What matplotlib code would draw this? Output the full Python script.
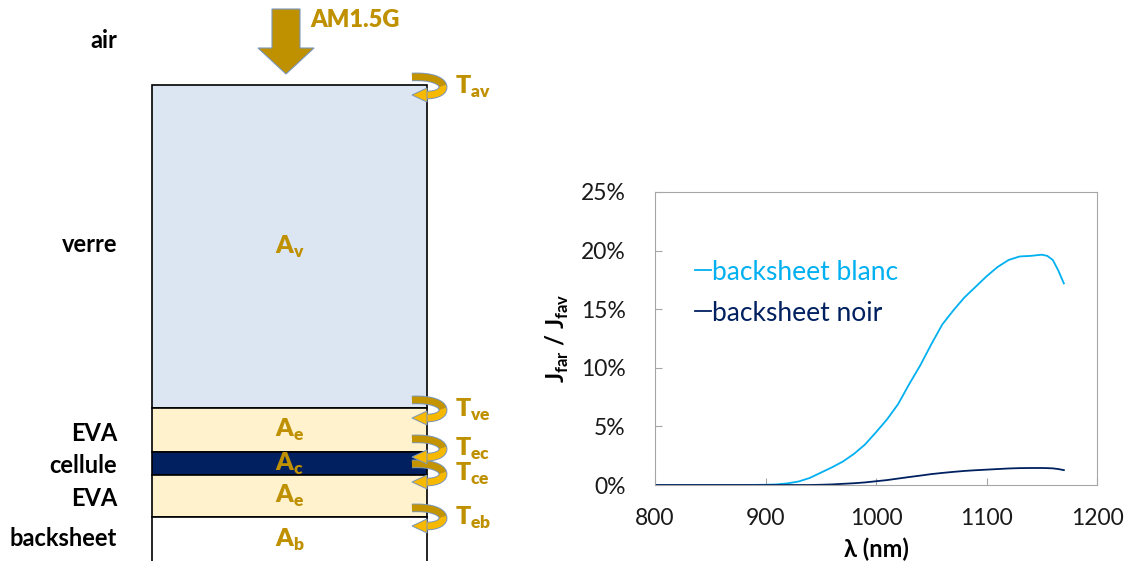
import matplotlib.pyplot as plt
from matplotlib.patches import Rectangle, Polygon, PathPatch
from matplotlib.path import Path
from matplotlib.ticker import FuncFormatter

plt.rcParams['font.family'] = ['Lato', 'DejaVu Sans']

# --- chart data ---
wavelength = [800, 850, 880, 900, 910, 920, 930, 940, 950, 960, 970, 980, 990,
              1000, 1010, 1020, 1030, 1040, 1050, 1060, 1070, 1080, 1090, 1100,
              1110, 1120, 1130, 1140, 1150, 1155, 1160, 1165, 1170]
white_backsheet = [0, 0, 0, 0.02, 0.05, 0.14, 0.3, 0.6, 1.05, 1.5, 2.0, 2.65, 3.45,
                   4.5, 5.6, 6.9, 8.6, 10.2, 12.0, 13.7, 14.9, 16.0, 16.9, 17.8,
                   18.6, 19.2, 19.5, 19.55, 19.65, 19.55, 19.2, 18.3, 17.2]
black_backsheet = [0, 0, 0, 0, 0, 0, 0, 0, 0.02, 0.05, 0.1, 0.15, 0.22,
                   0.32, 0.42, 0.55, 0.68, 0.8, 0.93, 1.03, 1.12, 1.2, 1.26, 1.31,
                   1.36, 1.41, 1.44, 1.45, 1.45, 1.44, 1.42, 1.36, 1.27]
series_labels = ['backsheet blanc', 'backsheet noir']

# --- diagram content ---
layer_names = ['verre', 'EVA', 'cellule', 'EVA', 'backsheet']
layer_subs = ['v', 'e', 'c', 'e', 'b']
interface_subs = ['av', 've', 'ec', 'ce', 'eb']

gold = '#BF9000'
arrow_light = '#F7B800'
arrow_dark = '#C49400'
edge_blue = '#7A96BC'

fig = plt.figure(figsize=(11.29, 5.61), dpi=100)

# left: layered stack, drawn in pixel coordinates
ax0 = fig.add_axes([0, 0, 1, 1])
ax0.set_xlim(0, 1129)
ax0.set_ylim(561, 0)
ax0.axis('off')

layer_top = [85, 408, 452, 475, 517]
layer_bot = [408, 452, 475, 517, 575]
layer_fill = ['#DCE6F2', '#FFF2CC', '#002060', '#FFF2CC', 'white']
label_y = [244, 433, 465, 498, 538]
abs_y = [247, 430, 464, 496, 540]
x_left, x_right = 152, 427

for i, name in enumerate(layer_names):
    ax0.add_patch(Rectangle((x_left, layer_top[i]), x_right - x_left,
                            layer_bot[i] - layer_top[i], facecolor=layer_fill[i],
                            edgecolor='black', lw=1.2, zorder=2))
    ax0.text(117, label_y[i], name, ha='right', va='center', fontsize=17,
             fontweight='bold', color='black')
    ax0.text((x_left + x_right) / 2, abs_y[i], r'A$_\mathregular{%s}$' % layer_subs[i],
             ha='center', va='center', fontsize=18, fontweight='heavy', color=gold,
             zorder=4)

ax0.text(117, 40, 'air', ha='right', va='center', fontsize=17,
         fontweight='bold', color='black')

# incident light arrow
ax0.add_patch(Polygon([(272, 9), (300, 9), (300, 48), (314, 48), (286, 74),
                       (258, 48), (272, 48)], closed=True, facecolor=gold,
                      edgecolor=edge_blue, lw=0.8, zorder=3))
ax0.text(310, 20, 'AM1.5G', ha='left', va='center', fontsize=17,
         fontweight='heavy', color=gold)


def half(p0, p1, p2, p3):
    # split a cubic bezier at t=0.5
    mid = lambda a, b: ((a[0] + b[0]) / 2, (a[1] + b[1]) / 2)
    a, b, c = mid(p0, p1), mid(p1, p2), mid(p2, p3)
    d, e = mid(a, b), mid(b, c)
    m = mid(d, e)
    return [p0, a, d, m], [m, e, c, p3]


codes = [Path.MOVETO, Path.CURVE4, Path.CURVE4, Path.CURVE4]

# curved transmission arrows at the interfaces
arrow_y = [87, 410, 449, 474, 518]
for yc, sub in zip(arrow_y, interface_subs):
    pts = [(412, yc - 10), (451, yc - 12), (451, yc + 9), (425, yc + 8)]
    first, second = half(*pts)
    ax0.add_patch(PathPatch(Path(pts, codes), fill=False, lw=6.2,
                            edgecolor=edge_blue, capstyle='butt', zorder=5))
    ax0.add_patch(PathPatch(Path(second, codes), fill=False, lw=4.8,
                            edgecolor=arrow_light, capstyle='butt', zorder=6))
    ax0.add_patch(PathPatch(Path(first, codes), fill=False, lw=4.8,
                            edgecolor=arrow_dark, capstyle='butt', zorder=6))
    ax0.add_patch(Polygon([(427, yc + 1), (427, yc + 15), (412, yc + 8)],
                          closed=True, facecolor=arrow_light, edgecolor=edge_blue,
                          lw=0.7, zorder=7))
    ax0.text(455, yc, r'T$_\mathregular{%s}$' % sub, ha='left', va='center',
             fontsize=18, fontweight='heavy', color=gold)

# right: spectral ratio chart
ax = fig.add_axes([655 / 1129, 1 - 485 / 561, 442 / 1129, 293 / 561])
ax.plot(wavelength, white_backsheet, color='#00B0F0', lw=1.3, label=series_labels[0])
ax.plot(wavelength, black_backsheet, color='#002060', lw=1.3, label=series_labels[1])
ax.set_xlim(800, 1200)
ax.set_ylim(0, 25)
ax.set_xticks([800, 900, 1000, 1100, 1200])
ax.set_yticks([0, 5, 10, 15, 20, 25])
ax.yaxis.set_major_formatter(FuncFormatter(lambda v, pos: f'{v:.0f}%'))
for s in ax.spines.values():
    s.set_color('#A6A6A6')
ax.tick_params(direction='in', length=5, color='#A6A6A6', labelsize=16.5,
               labelcolor='#1A1A1A')
ax.tick_params(axis='x', pad=16.5)
ax.tick_params(axis='y', pad=21)
ax.set_xlabel(r'λ (nm)', fontsize=17, fontweight='bold', labelpad=6)
ax.set_ylabel(r'J$_\mathregular{far}$ / J$_\mathregular{fav}$', fontsize=17,
              fontweight='bold', labelpad=7)
ax.legend(loc='upper left', bbox_to_anchor=(0.037, 0.85), frameon=False,
          fontsize=19, handlelength=0.6, handletextpad=0.05, labelspacing=0.6,
          labelcolor='linecolor')

fig.savefig('out.png', dpi=100)
